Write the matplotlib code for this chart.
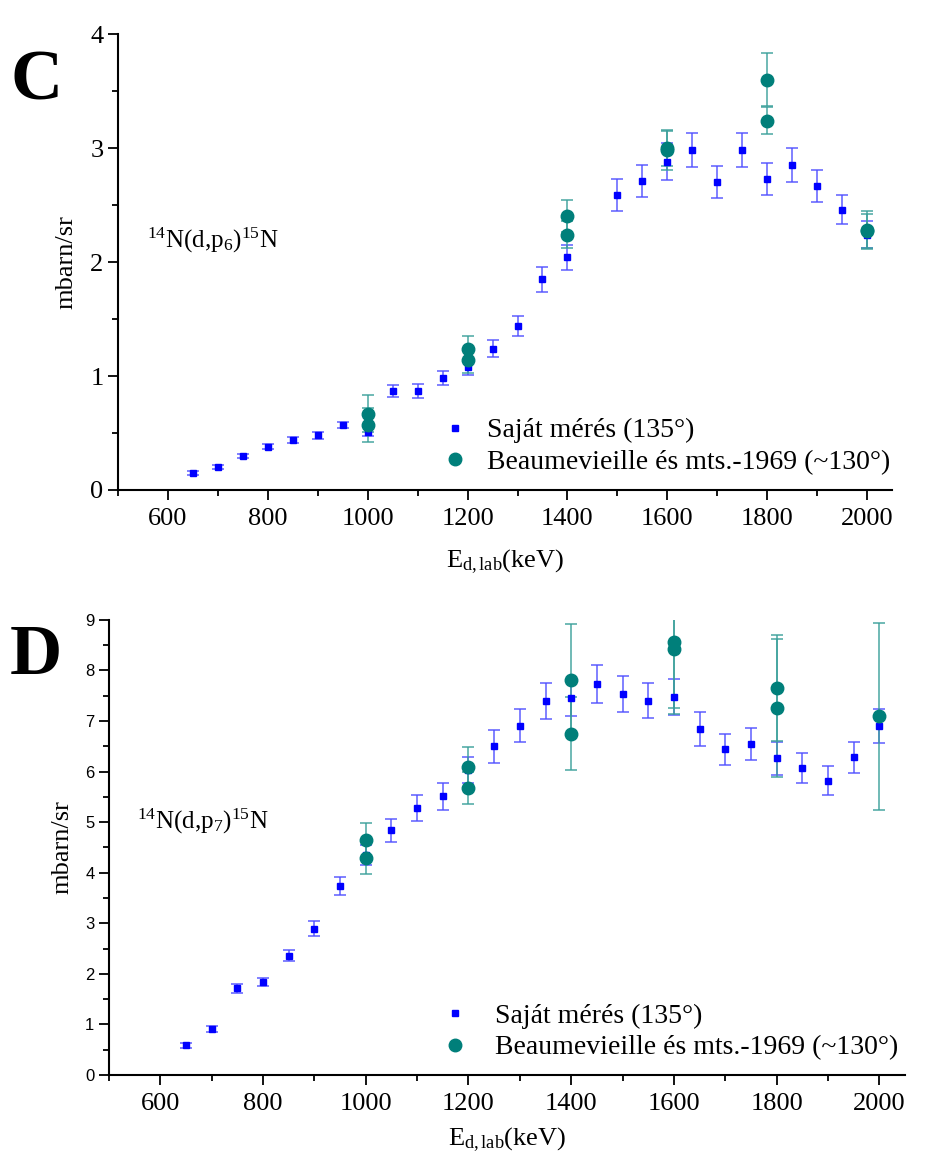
import matplotlib
matplotlib.use('Agg')
import matplotlib.pyplot as plt
from matplotlib.ticker import MultipleLocator

plt.rcParams['font.family'] = ['Liberation Serif', 'DejaVu Serif']
plt.rcParams['mathtext.fontset'] = 'custom'
plt.rcParams['mathtext.rm'] = 'Liberation Serif'
plt.rcParams['mathtext.it'] = 'Liberation Serif:italic'

# panel C: 14N(d,p6)15N
E_c = [650, 700, 750, 800, 850, 900, 950, 1000, 1050, 1100, 1150, 1200, 1250, 1300,
       1350, 1400, 1500, 1550, 1600, 1650, 1700, 1750, 1800, 1850, 1900, 1950, 2000]
sajat_c = [0.15, 0.20, 0.30, 0.38, 0.44, 0.48, 0.57, 0.51, 0.87, 0.87, 0.98, 1.08, 1.24, 1.44,
           1.85, 2.04, 2.59, 2.71, 2.88, 2.98, 2.70, 2.98, 2.73, 2.85, 2.67, 2.46, 2.24]
sajat_c_err = [0.02, 0.02, 0.02, 0.02, 0.025, 0.03, 0.03, 0.04, 0.055, 0.06, 0.06, 0.07, 0.075, 0.09,
               0.11, 0.11, 0.14, 0.14, 0.16, 0.15, 0.14, 0.15, 0.14, 0.15, 0.14, 0.13, 0.12]
E_bc = [1000, 1000, 1200, 1200, 1400, 1400, 1600, 1600, 1800, 1800, 2000, 2000]
beau_c = [0.67, 0.57, 1.24, 1.14, 2.40, 2.24, 3.00, 2.98, 3.60, 3.24, 2.28, 2.27]
beau_c_err = [0.16, 0.15, 0.11, 0.11, 0.14, 0.12, 0.16, 0.17, 0.23, 0.12, 0.17, 0.15]

# panel D: 14N(d,p7)15N
E_d = [650, 700, 750, 800, 850, 900, 950, 1000, 1050, 1100, 1150, 1200, 1250, 1300,
       1350, 1400, 1450, 1500, 1550, 1600, 1650, 1700, 1750, 1800, 1850, 1900, 1950, 2000]
sajat_d = [0.59, 0.90, 1.71, 1.83, 2.36, 2.89, 3.73, 4.35, 4.84, 5.28, 5.51, 6.03, 6.50, 6.91,
           7.40, 7.45, 7.73, 7.54, 7.40, 7.47, 6.84, 6.44, 6.55, 6.26, 6.07, 5.82, 6.28, 6.90]
sajat_d_err = [0.05, 0.06, 0.085, 0.08, 0.115, 0.145, 0.18, 0.2, 0.23, 0.26, 0.27, 0.26, 0.33, 0.33,
               0.36, 0.35, 0.37, 0.36, 0.35, 0.36, 0.33, 0.31, 0.32, 0.32, 0.30, 0.29, 0.31, 0.33]
E_bd = [1000, 1000, 1200, 1200, 1400, 1400, 1600, 1600, 1800, 1800, 2000]
beau_d = [4.65, 4.30, 6.09, 5.68, 7.82, 6.75, 8.56, 8.43, 7.65, 7.26, 7.09]
beau_d_err = [0.34, 0.33, 0.40, 0.32, 1.10, 0.72, 1.30, 1.30, 1.05, 1.36, 1.85]

lab_sajat = 'Saját mérés (135°)'
lab_beau = 'Beaumevieille és mts.-1969 (~130°)'

BLUE = '#0000ff'
TEAL = '#007f7a'

fig = plt.figure(figsize=(9.3, 11.65), dpi=100)
axC = fig.add_axes([0.1269, 0.5794, 0.8323, 0.3914])
axD = fig.add_axes([0.1172, 0.0773, 0.8559, 0.3906])


def draw(ax, E, y, yerr, Eb, yb, yberr, ymax, reaction, ann_xy, leg_xy, hpad):
    ax.errorbar(E, y, yerr=yerr, fmt='none', ecolor='#5050ff', elinewidth=1.2,
                capsize=4, capthick=1.2, alpha=0.85, zorder=2)
    ax.errorbar(Eb, yb, yerr=yberr, fmt='none', ecolor='#3a9f9a', elinewidth=1.2,
                capsize=4, capthick=1.2, alpha=0.85, zorder=2)
    h1, = ax.plot(E, y, 's', color=BLUE, ms=5, ls='none', zorder=3, label=lab_sajat)
    h2, = ax.plot(Eb, yb, 'o', color=TEAL, ms=9, ls='none', zorder=4, label=lab_beau)
    ax.set_xlim(500, 2050)
    ax.set_ylim(0, ymax)
    ax.xaxis.set_major_locator(MultipleLocator(200))
    ax.xaxis.set_minor_locator(MultipleLocator(100))
    ax.yaxis.set_major_locator(MultipleLocator(1))
    ax.yaxis.set_minor_locator(MultipleLocator(0.5))
    for s in ['top', 'right']:
        ax.spines[s].set_visible(False)
    for s in ['left', 'bottom']:
        ax.spines[s].set_linewidth(1.5)
    ax.tick_params(which='major', direction='out', length=7, width=1.3)
    ax.tick_params(which='minor', direction='out', length=4, width=1.3)
    ax.tick_params(axis='x', labelsize=19, pad=6)
    ax.set_xticks([600, 800, 1000, 1200, 1400, 1600, 1800, 2000])
    ax.set_xlabel(r'E$_{\mathrm{d,lab}}$(keV)', fontsize=19)
    ax.text(ann_xy[0], ann_xy[1], reaction, transform=ax.transAxes, fontsize=18,
            va='center', ha='left')
    ax.legend(handles=[h1, h2], loc='upper left', bbox_to_anchor=leg_xy, frameon=False,
              fontsize=20, handlelength=1.0, handletextpad=hpad, labelspacing=0.22,
              borderpad=0, borderaxespad=0)


draw(axC, E_c, sajat_c, sajat_c_err, E_bc, beau_c, beau_c_err, 4,
     r'$^{14}$N(d,p$_6$)$^{15}$N', (0.037, 0.547), (0.417, 0.158), 0.65)
axC.tick_params(axis='y', labelsize=19)
axC.set_ylabel('mbarn/sr', fontsize=19)
axC.yaxis.set_label_coords(-0.052, 0.5)
axC.xaxis.set_label_coords(0.5, -0.125)

draw(axD, E_d, sajat_d, sajat_d_err, E_bd, beau_d, beau_d_err, 9,
     r'$^{14}$N(d,p$_7$)$^{15}$N', (0.035, 0.557), (0.417, 0.157), 0.94)
axD.tick_params(axis='y', labelsize=12)
for lbl in axD.get_yticklabels():
    lbl.set_family('Liberation Sans')
axD.set_ylabel('mbarn/sr', fontsize=19)
axD.yaxis.set_label_coords(-0.045, 0.5)
axD.xaxis.set_label_coords(0.5, -0.11)

fig.text(10 / 930, 1 - 82 / 1165, 'C', fontsize=52, fontweight='bold', va='center', ha='left')
fig.text(10 / 930, 1 - 657 / 1165, 'D', fontsize=52, fontweight='bold', va='center', ha='left')

fig.savefig('out.png', dpi=100)
